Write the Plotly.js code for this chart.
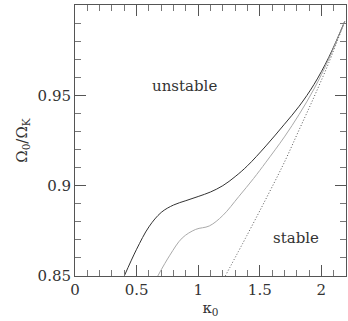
<!DOCTYPE html>
<html>
<head>
<meta charset="utf-8">
<script src="https://cdn.plot.ly/plotly-3.0.1.min.js"></script>
<style>
  html, body { margin: 0; padding: 0; background: #fff; }
  #graph-container { width: 348px; height: 321px; }
</style>
</head>
<body>
<div id="graph-container"></div>
<script>
// upper (solid) boundary
const solidX = [0.40, 0.50, 0.60, 0.70, 0.80, 0.90, 1.00, 1.10, 1.20, 1.30, 1.40, 1.55, 1.70, 1.82, 1.94, 2.06, 2.19];
const solidY = [0.850, 0.8648, 0.8772, 0.8852, 0.8893, 0.8917, 0.8940, 0.8965, 0.9000, 0.9050, 0.9110, 0.9220, 0.9340, 0.9440, 0.9560, 0.9710, 0.9910];

// middle (grey) curve
const midX = [0.672, 0.77, 0.87, 0.98, 1.09, 1.20, 1.33, 1.45, 1.55, 1.70, 1.82, 1.94, 2.06, 2.19];
const midY = [0.850, 0.8615, 0.8710, 0.8758, 0.8777, 0.8835, 0.8940, 0.9040, 0.9130, 0.9270, 0.9395, 0.9535, 0.9700, 0.9910];

// lower (dotted) curve
const dotX = [1.22, 1.40, 1.56, 1.70, 1.82, 1.94, 2.06, 2.19];
const dotY = [0.850, 0.873, 0.894, 0.913, 0.931, 0.949, 0.968, 0.991];

const serif = 'DejaVu Serif';
const ink = '#333';

const traces = [
    { x: solidX, y: solidY, type: 'scatter', mode: 'lines',
      line: { color: '#333', width: 1, shape: 'spline', smoothing: 1 } },
    { x: midX, y: midY, type: 'scatter', mode: 'lines',
      line: { color: '#aaa', width: 1, shape: 'spline', smoothing: 1 } },
    { x: dotX, y: dotY, type: 'scatter', mode: 'lines',
      line: { color: '#555', width: 1, dash: '1px,2px', shape: 'spline', smoothing: 1 } }
];

const axisCommon = {
    showgrid: false, zeroline: false, showline: true, linecolor: '#555', linewidth: 1,
    mirror: 'ticks', ticks: 'inside', ticklen: 11, tickcolor: '#555',
    tickfont: { family: serif, size: 15, color: ink }
};

const layout = {
    width: 348, height: 321,
    margin: { l: 75, r: 2, t: 5, b: 45 },
    paper_bgcolor: '#fff', plot_bgcolor: '#fff',
    showlegend: false,
    font: { family: serif, size: 15, color: ink },
    xaxis: Object.assign({}, axisCommon, {
        range: [0, 2.2], dtick: 0.5, tick0: 0,
        minor: { dtick: 0.1, ticks: 'inside', ticklen: 6, tickcolor: '#777' },
        title: { text: 'κ<sub>0</sub>', font: { family: serif, size: 15, color: ink }, standoff: 4 }
    }),
    yaxis: Object.assign({}, axisCommon, {
        range: [0.85, 1], dtick: 0.05, tick0: 0.85,
        minor: { dtick: 0.01, ticks: 'inside', ticklen: 6, tickcolor: '#777' },
        title: { text: 'Ω<sub>0</sub>/Ω<sub>K</sub>', font: { family: serif, size: 15, color: ink }, standoff: 6 }
    }),
    annotations: [
        { x: 0.89, y: 0.955, xref: 'x', yref: 'y', text: 'unstable', showarrow: false,
          font: { family: serif, size: 15, color: ink } },
        { x: 1.79, y: 0.871, xref: 'x', yref: 'y', text: 'stable', showarrow: false,
          font: { family: serif, size: 15, color: ink } }
    ]
};

Plotly.newPlot('graph-container', traces, layout, { staticPlot: true, displayModeBar: false });
</script>
</body>
</html>
